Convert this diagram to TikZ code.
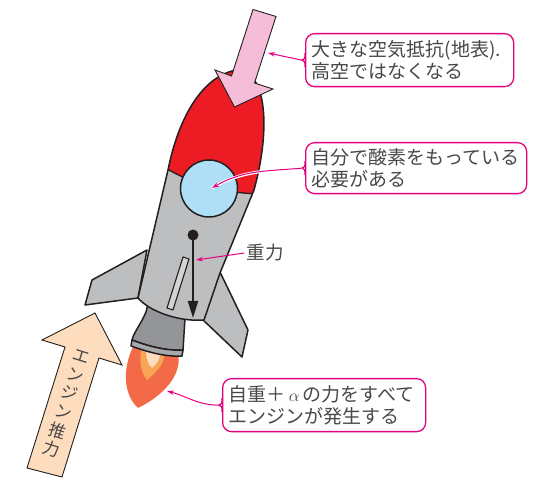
\documentclass[tikz,border=0pt]{standalone}
\usepackage{fontspec}
\newfontfamily\jp{Noto Sans CJK JP}
\usetikzlibrary{arrows.meta,calc}

\definecolor{rocketgray}{HTML}{BCBEC0}
\definecolor{nozzlegray}{HTML}{939598}
\definecolor{rimgray}{HTML}{A7A9AC}
\definecolor{slotgray}{HTML}{D1D3D4}
\definecolor{nosered}{HTML}{ED1C24}
\definecolor{windowblue}{HTML}{AEDFF7}
\definecolor{dragpink}{HTML}{F5BDD7}
\definecolor{thrustpeach}{HTML}{FDDDBE}
\definecolor{flameouter}{HTML}{F26A48}
\definecolor{flamemid}{HTML}{F8A456}
\definecolor{flameinner}{HTML}{FDDCBF}
\definecolor{callout}{HTML}{E4007F}
\definecolor{ink}{HTML}{231F20}
\definecolor{textgray}{HTML}{4A4747}

\tikzset{
  part/.style={draw=ink, line width=1.5pt, line join=round},
  bigarrow/.style={draw=ink, line width=0.9pt, line join=miter},
  labelbox/.style={draw=callout, line width=1.3pt, rounded corners=9pt, fill=white,
    text=textgray, font=\jp\fontsize{19}{22.5}\selectfont, align=left,
    inner xsep=6pt, inner ysep=0pt, anchor=north west},
  plainlabel/.style={text=textgray, font=\jp\fontsize{18.5}{22}\selectfont, inner sep=0pt},
  leader/.style={draw=callout, line width=1pt, -{Stealth[length=7pt,width=4.5pt]}},
}

\begin{document}
\begin{tikzpicture}[x=1pt,y=-1pt]
\useasboundingbox (0,0) rectangle (544,478);

% flame
\fill[flameouter] (134,345) .. controls (123,366) and (122,393) .. (138,408)
   .. controls (161,397) and (183,376) .. (178,353) -- cycle;
\fill[flamemid] (141,350) .. controls (139,364) and (142,374) .. (147,380)
   .. controls (155,373) and (164,365) .. (164,356) -- cycle;
\fill[flameinner] (146,352) .. controls (146,360) and (149,365) .. (152,368)
   .. controls (156,364) and (160,360) .. (160,354) -- cycle;

% nozzle
\path[part, fill=nozzlegray] (150,295) -- (146,312) .. controls (141,324) and (134,332) .. (132,340)
   .. controls (150,347) and (168,351) .. (183,350) -- (185,318) -- cycle;
\path[part, fill=rimgray] (132,340) .. controls (150,347) and (168,351) .. (183,350)
   -- (182,356) .. controls (165,357) and (148,352) .. (131,346) -- cycle;

% fins
\path[part, fill=rocketgray] (147,250) -- (92,280) -- (85,305) -- (138,298) -- cycle;
\path[part, fill=rocketgray] (220,272) -- (248,330) -- (242,357) -- (202,319) -- cycle;

% body with nose cone
\def\hull{(138,298) -- (168,170) .. controls (178,120) and (200,80) .. (232,71)
   .. controls (266,64) and (272,125) .. (254,190) -- (220,273) -- (204,320)
   .. controls (180,322) and (150,312) .. (138,298) -- cycle}
\fill[rocketgray] \hull;
\begin{scope}
  \clip \hull;
  \fill[nosered] (150,40) -- (290,40) -- (290,193)
     .. controls (240,197) and (195,190) .. (150,158) -- cycle;
  \draw[ink, line width=1.3pt] (150,158) .. controls (195,190) and (240,197) .. (290,193);
\end{scope}
\draw[part] \hull;

% window and hatch
\node[part, fill=windowblue, circle, minimum size=57pt, inner sep=0pt] (window) at (209,188.5) {};
\path[draw=ink, line width=1.1pt, fill=slotgray] (183,257) -- (189,259) -- (173,310) -- (167,308) -- cycle;

% weight
\node[circle, fill=ink, minimum size=11pt, inner sep=0pt] (cg) at (193,235) {};
\coordinate (cgtip) at (193,318);
\draw[ink, line width=2pt, -{Triangle[length=17pt,width=10pt]}] (cg.center) -- (cgtip);

% drag arrow
\path[bigarrow, fill=dragpink] (253,9.5) -- (276,16.5) -- (254.5,83) -- (273,89) -- (234.5,107)
   -- (215,70) -- (231.5,76) -- cycle;

% thrust arrow
\path[bigarrow, fill=thrustpeach] (27,468) -- (62,477) -- (99,358) -- (122,365) -- (95,313)
   -- (42,340) -- (65,347) -- cycle;
\node[plainlabel, font=\jp\fontsize{17}{19.5}\selectfont, align=center, rotate=-17.6]
   (thrust) at (66,404) {エ\\ン\\ジ\\ン\\推\\力};

% callouts
\coordinate (dragpt) at (268,53);
\coordinate (windowpt) at (212,188);
\coordinate (weightpt) at (196,260);
\coordinate (flamept) at (167,391);

\node[labelbox, minimum width=208pt, minimum height=53pt, text width=196pt] (drag) at (305,33)
   {大きな空気抵抗(地表).\\高空ではなくなる};
\node[labelbox, minimum width=221pt, minimum height=51pt, text width=209pt] (oxy) at (305,142)
   {自分で酸素をもっている\\必要がある};
\node[labelbox, minimum width=203pt, minimum height=53pt, text width=191pt] (engine) at (222,378)
   {自重＋\,$\alpha$\,の力をすべて\\エンジンが発生する};
\node[plainlabel] (weight) at (265,253) {重力};

\foreach \b in {drag,oxy,engine}{
  \draw[callout, line width=1.3pt]
    ($(\b.west)+(0,-7)$) .. controls ($(\b.west)+(0,-1)$) .. ($(\b.west)+(-3,0)$)
    .. controls ($(\b.west)+(0,1)$) .. ($(\b.west)+(0,7)$);
}

\draw[leader] ($(drag.west)+(-3,0)$) -- (dragpt);
\draw[white, line width=3pt] ($(oxy.west)+(-3,0)$) to[out=185,in=30] (windowpt);
\draw[leader] ($(oxy.west)+(-3,0)$) to[out=185,in=30] (windowpt);
\draw[leader] ($(weight.west)+(-2,0)$) -- (weightpt);
\draw[leader] ($(engine.west)+(-3,0)$) to[out=180,in=-15] (flamept);
\end{tikzpicture}
\end{document}
